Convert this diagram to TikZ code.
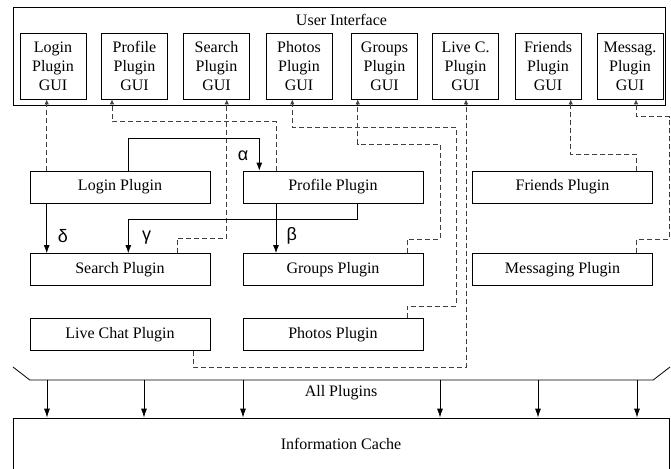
\documentclass[tikz,border=0pt]{standalone}
\usepackage{fontspec}
\setmainfont{Liberation Serif}
\newfontfamily\gkfont{Liberation Sans}
\usetikzlibrary{arrows.meta,calc}
\begin{document}
\begin{tikzpicture}[x=1pt,y=-1pt,
  txt/.style={font=\fontsize{16}{19}\selectfont},
  gui/.style={draw,line width=0.8pt,minimum width=66pt,minimum height=66pt,inner sep=0pt,align=center,txt},
  plug/.style={draw,line width=0.8pt,minimum width=180pt,minimum height=32pt,inner sep=0pt,txt},
  dconn/.style={draw=black!75,line width=0.8pt,dash pattern=on 5pt off 3pt,-{Latex[length=5pt,width=4.5pt]}},
  sconn/.style={draw,line width=0.8pt,-{Latex[length=8pt,width=6pt]}},
  glabel/.style={font=\gkfont\fontsize{18}{18}\selectfont,inner sep=0pt}]
\useasboundingbox (0,0) rectangle (671,468);
\clip (0,0) rectangle (671,468);
% User interface
\node[draw,line width=0.8pt,minimum width=652pt,minimum height=98pt,inner sep=0pt] (ui) at (339,56) {};
\node[txt,inner sep=0pt] (uilabel) at (341.5,20) {User Interface};
\node[gui] (lgui)  at (53,66)   {Login\\Plugin\\GUI};
\node[gui] (prgui) at (134.5,66){Profile\\Plugin\\GUI};
\node[gui] (sgui)  at (216.5,66){Search\\Plugin\\GUI};
\node[gui] (phgui) at (299,66)  {Photos\\Plugin\\GUI};
\node[gui] (ggui)  at (384.5,66){Groups\\Plugin\\GUI};
\node[gui] (lcgui) at (465.5,66){Live C.\\Plugin\\GUI};
\node[gui] (fgui)  at (548,66)  {Friends\\Plugin\\GUI};
\node[gui] (mgui)  at (630,66)  {Messag.\\Plugin\\GUI};
% plugins
\node[plug] (lp)  at (120,187)   {Login Plugin};
\node[plug] (pp)  at (333,187)   {Profile Plugin};
\node[plug] (fp)  at (562.5,187) {Friends Plugin};
\node[plug] (sp)  at (120,269.5) {Search Plugin};
\node[plug] (gp)  at (333,269.5) {Groups Plugin};
\node[plug] (mp)  at (562.5,269.5) {Messaging Plugin};
\node[plug] (lcp) at (120,334.5) {Live Chat Plugin};
\node[plug] (php) at (333,334.5) {Photos Plugin};
% all plugins bus
\node[minimum width=623pt,minimum height=0pt,inner sep=0pt] (bus) at (341.5,380) {};
\draw[line width=0.8pt] (13,367) -- (bus.west) -- (bus.east) -- (670,367);
\node[txt,inner sep=0pt] (alltxt) at (341,393) {All Plugins};
% cache
\node[draw,line width=0.8pt,minimum width=656pt,minimum height=52pt,inner sep=0pt] (cache) at (341,444) {};
\node[txt,inner sep=0pt] (cachetxt) at (341,444) {Information Cache};
\foreach \x in {47,144,243,440,538,637}
  \draw[sconn,-{Latex[length=9pt,width=6pt]}] (bus.south -| \x,0) -- (cache.north -| \x,0);
% dashed GUI connections
\draw[dconn] (lp.north -| 46.7,0) -- (lgui.south -| 46.7,0);
\draw[dconn] (pp.north -| 276,0) |- (112,121.7) -- (prgui.south -| 112,0);
\draw[dconn] (sp.north -| 177.3,0) |- (226.7,238) -- (sgui.south -| 226.7,0);
\draw[dconn] (php.north -| 407,0) |- (456,306) |- (292.3,127.3) -- (phgui.south -| 292.3,0);
\draw[dconn] (gp.north -| 407,0) |- (440,239) |- (357.7,144) -- (ggui.south -| 357.7,0);
\draw[dconn] (lcp.south -| 193,0) |- (466,367) -- (lcgui.south -| 466,0);
\draw[dconn] (fp.north -| 636.7,0) |- (570.7,154) -- (fgui.south -| 570.7,0);
\draw[dconn] (mp.north -| 636.7,0) |- (669,239.3) |- (636,116.7) -- (mgui.south -| 636,0);
% solid plugin dependencies
\draw[sconn] (lp.north -| 128.3,0) |- (259.3,138.3) -- (pp.north -| 259.3,0);
\draw[sconn] (pp.south -| 276,0) -- (gp.north -| 276,0);
\draw[sconn] (pp.south -| 357.7,0) |- (128.3,219.3) -- (sp.north -| 128.3,0);
\draw[sconn] (lp.south -| 46.7,0) -- (sp.north -| 46.7,0);
\node[glabel] (alpha) at (243,156) {α};
\node[glabel] (beta)  at (291.7,236) {β};
\node[glabel] (gamma) at (146.7,238) {γ};
\node[glabel] (delta) at (63,236) {δ};
\end{tikzpicture}
\end{document}
